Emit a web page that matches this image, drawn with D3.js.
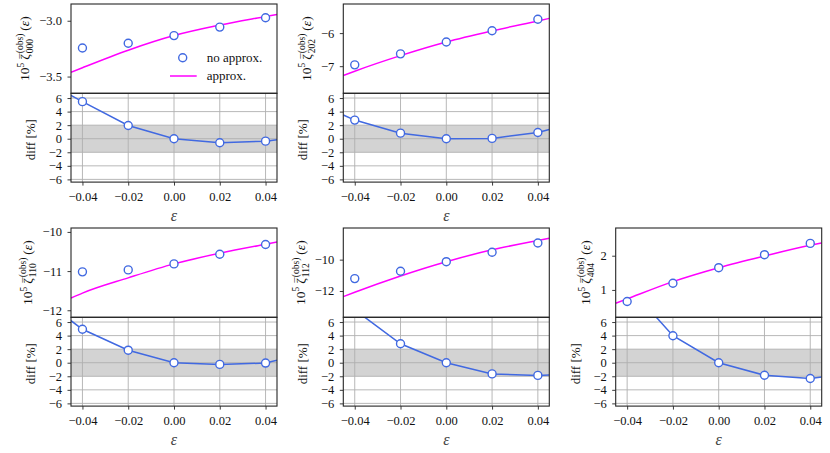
<!DOCTYPE html>
<html>
<head>
<meta charset="utf-8">
<script src="https://cdn.jsdelivr.net/npm/d3@7"></script>
<style>
  body { margin: 0; background: #fff; }
  svg { display: block; }
</style>
</head>
<body>
<svg id="chart" width="830" height="453"></svg>
<script>
// values
const epsPoints = [-0.04, -0.02, 0, 0.02, 0.04];
const epsCurve = [-0.045, -0.04, -0.02, 0, 0.02, 0.04, 0.045];
const xTicks = [-0.04, -0.02, 0, 0.02, 0.04];
const diffTicks = [-6, -4, -2, 0, 2, 4, 6];

const noApprox000 = [-3.244, -3.202, -3.133, -3.057, -2.973];
const approx000 = [-3.462, -3.421, -3.264, -3.133, -3.039, -2.962, -2.943];
const diff000 = [6.4, 5.47, 1.95, 0.0, -0.6, -0.36, -0.17];

const noApprox202 = [-6.96, -6.627, -6.27, -5.93, -5.58];
const approx202 = [-7.28, -7.151, -6.681, -6.27, -5.933, -5.631, -5.555];
const diff202 = [3.5, 2.75, 0.82, 0.0, 0.05, 0.92, 1.35];

const noApprox110 = [-11.02, -10.97, -10.816, -10.57, -10.32];
const approx110 = [-11.69, -11.563, -11.173, -10.816, -10.544, -10.315, -10.26];
const diff110 = [6.2, 4.93, 1.85, 0.0, -0.25, -0.05, 0.35];

const noApprox112 = [-11.21, -10.74, -10.13, -9.53, -8.94];
const approx112 = [-12.36, -12.08, -11.04, -10.13, -9.373, -8.773, -8.63];
const diff112 = [9.0, 7.8, 2.8, 0.0, -1.65, -1.87, -1.82];

const noApprox404 = [0.662, 1.195, 1.65, 2.03, 2.36];
const approx404 = [0.61, 0.738, 1.243, 1.65, 1.992, 2.305, 2.37];
const diff404 = [14.0, 11.5, 3.98, 0.0, -1.85, -2.33, -2.09];

const panels = [
  { col: 0, row: 0, sub: "000", noApprox: noApprox000, approx: approx000, diff: diff000,
    yDomain: [-3.65, -2.85], yTicks: [-3.5, -3.0], fmt: ".1f", legend: true },
  { col: 1, row: 0, sub: "202", noApprox: noApprox202, approx: approx202, diff: diff202,
    yDomain: [-7.82, -5.12], yTicks: [-7, -6], fmt: "d" },
  { col: 0, row: 1, sub: "110", noApprox: noApprox110, approx: approx110, diff: diff110,
    yDomain: [-12.18, -9.9], yTicks: [-12, -11, -10], fmt: "d" },
  { col: 1, row: 1, sub: "112", noApprox: noApprox112, approx: approx112, diff: diff112,
    yDomain: [-13.68, -7.98], yTicks: [-12, -10], fmt: "d" },
  { col: 2, row: 1, sub: "404", noApprox: noApprox404, approx: approx404, diff: diff404,
    yDomain: [0.2, 2.81], yTicks: [1, 2], fmt: "d" },
];

const FONT = "Liberation Serif";
const svg = d3.select("#chart");
const colLeft = [71, 343.3, 615.7];
const rowTop = [4, 228];
const W = 206, topH = 89.3, diffH = 88.8;
const xDomain = [-0.045, 0.045];
const diffDomain = [-6.4, 6.7];
const blue = "#4169e1", magenta = "#ff00ff", spine = "#262626";
const fontSize = 12.5;

function styleAxis(sel) {
  sel.attr("font-family", FONT).attr("font-size", fontSize);
  sel.select(".domain").remove();
  sel.selectAll(".tick line").attr("stroke", spine).attr("stroke-width", 0.9);
  sel.selectAll(".tick text").attr("fill", "#111");
}

function zetaLabel(g, sub, xBase, cy) {
  const t = g.append("text").attr("font-family", FONT).attr("font-size", 13.5).attr("fill", "#111");
  t.append("tspan").text("10");
  t.append("tspan").attr("font-size", 9.5).attr("dy", -5.5).text("5");
  const z = t.append("tspan").attr("dy", 5.5).attr("dx", 3).text("\u03b6");
  const zw = z.node().getComputedTextLength();
  // bar over zeta
  const bar = t.append("tspan").attr("font-size", 11).text("\u00af");
  const bw = bar.node().getComputedTextLength();
  bar.attr("dx", -(zw + bw) / 2 + 1).attr("dy", -2.5);
  const sup = t.append("tspan").attr("font-size", 9.5)
    .attr("dx", (zw - bw) / 2).attr("dy", -3.5).text("(obs)");
  const supW = sup.node().getComputedTextLength();
  const s = t.append("tspan").attr("font-size", 9.5).attr("dx", -supW).attr("dy", 10).text(sub);
  const subW = s.node().getComputedTextLength();
  t.append("tspan").attr("dy", -4).attr("dx", Math.max(0, supW - subW) + 3).text("(");
  t.append("tspan").attr("font-style", "italic").text("\u03b5");
  t.append("tspan").text(")");
  const bb = t.node().getBBox();
  t.attr("transform", `translate(${xBase},${cy}) rotate(-90) translate(${-bb.x - bb.width / 2},0)`);
}

function drawPanel(p, i) {
  const g = svg.append("g")
    .attr("transform", `translate(${colLeft[p.col]},${rowTop[p.row]})`);
  const x = d3.scaleLinear().domain(xDomain).range([0, W]);
  const y = d3.scaleLinear().domain(p.yDomain).range([topH, 0]);
  const yd = d3.scaleLinear().domain(diffDomain).range([topH + diffH, topH]);

  const defs = g.append("defs");
  defs.append("clipPath").attr("id", "ct" + i)
    .append("rect").attr("width", W).attr("height", topH);
  defs.append("clipPath").attr("id", "cd" + i)
    .append("rect").attr("y", topH).attr("width", W).attr("height", diffH);

  // --- top panel
  const top = g.append("g").attr("clip-path", `url(#ct${i})`);
  top.append("path")
    .datum(d3.zip(epsCurve, p.approx))
    .attr("d", d3.line().x(d => x(d[0])).y(d => y(d[1])).curve(d3.curveMonotoneX))
    .attr("fill", "none").attr("stroke", magenta).attr("stroke-width", 1.5);
  top.selectAll("circle")
    .data(d3.zip(epsPoints, p.noApprox))
    .join("circle")
    .attr("cx", d => x(d[0])).attr("cy", d => y(d[1])).attr("r", 4)
    .attr("fill", "#fff").attr("stroke", blue).attr("stroke-width", 1.4);

  const yAx = g.append("g")
    .call(d3.axisLeft(y).tickValues(p.yTicks).tickFormat(d3.format(p.fmt))
      .tickSize(3.5).tickPadding(5.5))
    .call(styleAxis);

  // --- diff panel
  const dif = g.append("g").attr("clip-path", `url(#cd${i})`);
  dif.append("rect")
    .attr("x", 0).attr("width", W)
    .attr("y", yd(2)).attr("height", yd(-2) - yd(2))
    .attr("fill", "#d3d3d3");
  dif.selectAll(".vgrid").data(xTicks).join("line")
    .attr("x1", d => x(d)).attr("x2", d => x(d))
    .attr("y1", topH).attr("y2", topH + diffH)
    .attr("stroke", "#b0b0b0").attr("stroke-width", 0.9);
  dif.selectAll(".hgrid").data(diffTicks).join("line")
    .attr("x1", 0).attr("x2", W)
    .attr("y1", d => yd(d)).attr("y2", d => yd(d))
    .attr("stroke", "#b0b0b0").attr("stroke-width", 0.9);
  dif.append("path")
    .datum(d3.zip(epsCurve, p.diff))
    .attr("d", d3.line().x(d => x(d[0])).y(d => yd(d[1])))
    .attr("fill", "none").attr("stroke", blue).attr("stroke-width", 1.5);
  dif.selectAll("circle")
    .data(d3.zip(epsCurve, p.diff).slice(1, 6))
    .join("circle")
    .attr("cx", d => x(d[0])).attr("cy", d => yd(d[1])).attr("r", 4)
    .attr("fill", "#fff").attr("stroke", blue).attr("stroke-width", 1.4);

  g.append("g")
    .call(d3.axisLeft(yd).tickValues(diffTicks).tickFormat(d3.format("d"))
      .tickSize(3.5).tickPadding(5.5))
    .call(styleAxis);
  g.append("g")
    .attr("transform", `translate(0,${topH + diffH})`)
    .call(d3.axisBottom(x).tickValues(xTicks).tickFormat(d3.format(".2f"))
      .tickSize(3.5).tickPadding(7))
    .call(styleAxis);

  // frames
  [[0, topH], [topH, diffH]].forEach(([yy, hh]) => {
    g.append("rect").attr("x", 0).attr("y", yy).attr("width", W).attr("height", hh)
      .attr("fill", "none").attr("stroke", spine).attr("stroke-width", 1.1);
  });

  // labels
  const bb = yAx.node().getBBox();
  zetaLabel(g, p.sub, bb.x - 10, topH / 2);
  g.append("text")
    .attr("transform", `translate(-36,${topH + diffH / 2 + 2}) rotate(-90)`)
    .attr("text-anchor", "middle").attr("font-family", FONT)
    .attr("font-size", 13).attr("fill", "#111")
    .text("diff [%]");
  g.append("text")
    .attr("x", W / 2).attr("y", topH + diffH + 39)
    .attr("text-anchor", "middle").attr("font-family", FONT)
    .attr("font-size", 16).attr("font-style", "italic").attr("fill", "#444")
    .text("\u03b5");

  if (p.legend) {
    const lg = g.append("g").attr("font-family", FONT).attr("font-size", 13).attr("fill", "#111");
    lg.append("circle").attr("cx", 111.7).attr("cy", 53.7).attr("r", 4)
      .attr("fill", "#fff").attr("stroke", blue).attr("stroke-width", 1.4);
    lg.append("text").attr("x", 135.7).attr("y", 58).text("no approx.");
    lg.append("line").attr("x1", 99).attr("x2", 125.7).attr("y1", 72).attr("y2", 72)
      .attr("stroke", magenta).attr("stroke-width", 1.5);
    lg.append("text").attr("x", 135.7).attr("y", 76.3).text("approx.");
  }
}

panels.forEach((p, i) => drawPanel(p, i));
</script>
</body>
</html>
